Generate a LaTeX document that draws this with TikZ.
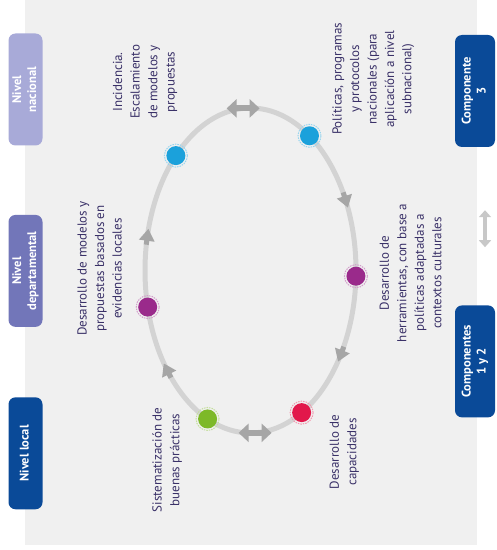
\documentclass[tikz,border=0pt]{standalone}
\usepackage{fontspec}
\setmainfont{PT Sans}
\usepackage{graphicx}
\usetikzlibrary{arrows.meta,positioning}
\definecolor{Soft}{HTML}{F0F0F0}
\definecolor{Track}{HTML}{D3D3D3}
\definecolor{Tip}{HTML}{A6A6A6}
\definecolor{TipLight}{HTML}{C8C8C8}
\definecolor{NivNac}{HTML}{A8AAD8}
\definecolor{NivDep}{HTML}{7276B9}
\definecolor{Navy}{HTML}{0A4A98}
\definecolor{Ink}{HTML}{3A3168}
\definecolor{DotBlue}{HTML}{1BA1DB}
\definecolor{DotPurple}{HTML}{9A2A8B}
\definecolor{DotRed}{HTML}{E2184B}
\definecolor{DotGreen}{HTML}{7DB928}
\newcommand{\up}[1]{\rotatebox{90}{\begin{tabular}{@{}c@{}}#1\end{tabular}}}

\begin{document}
\begin{tikzpicture}[x=1pt,y=1pt,
  lvl/.style={rounded corners=7pt,minimum width=34pt,minimum height=112pt,inner sep=0pt,text=white,font=\bfseries\fontsize{12.5}{15}\selectfont},
  comp/.style={lvl,minimum width=40pt,fill=Navy},
  txt/.style={inner sep=0pt,text=Ink,font=\fontsize{13}{17.5}\selectfont},
  dot/.style={circle,fill=#1,minimum size=19pt,inner sep=0pt},
  midtip/.style={draw=Tip,line width=5pt,-{Triangle[length=12pt,width=15pt]}},
  dbl/.style={draw=Tip,line width=6pt,{Triangle[length=10pt,width=18pt]}-{Triangle[length=10pt,width=18pt]}}]
  \useasboundingbox (0,0) rectangle (497,550);
  \fill[Soft] (25,5) rectangle (477,550);
  % levels and components
  \node[lvl,fill=NivNac] (nac) at (25.5,460.5) {\up{Nivel\\nacional}};
  \node[lvl,fill=NivDep,below=69pt of nac] (dep) {\up{Nivel\\departamental}};
  \node[lvl,fill=Navy,below=70pt of dep] (loc) {\up{Nivel local}};
  \node[comp] (c3) at (475,459) {\up{Componente\\3}};
  \node[comp,below=158pt of c3] (c12) {\up{Componentes\\1 y 2}};
  \draw[draw=TipLight,line width=4pt,{Triangle[length=7pt,width=12pt]}-{Triangle[length=7pt,width=12pt]},shorten <=63pt,shorten >=58pt] ([xshift=10pt]c3.south) -- ([xshift=10pt]c12.north);
  % cycle
  \begin{scope}[shift={(250.5,279.5)}]
    \draw[Track,line width=5pt] (0,0) ellipse[x radius=105.5pt,y radius=162.5pt];
    \foreach \t in {25.7,-31,-142,168}{
      \pgfmathsetmacro\a{atan2(-162.5*cos(\t),105.5*sin(\t))}
      \draw[midtip] (\t:105.5 and 162.5) ++(\a+180:8) -- ++(\a:16);
    }
    \draw[dbl] (94:105.5 and 162.5) ++(-16.5,0) -- ++(33,0);
    \draw[dbl] (-87.5:105.5 and 162.5) ++(-16.5,0) -- ++(33,0);
    \node[dot=DotBlue] (inc) at (135:105.5 and 162.5) {};
    \node[dot=DotBlue] (pol) at (56:105.5 and 162.5) {};
    \node[dot=DotPurple] (her) at (-2:105.5 and 162.5) {};
    \node[dot=DotRed] (cap) at (-61:105.5 and 162.5) {};
    \node[dot=DotGreen] (sis) at (-114:105.5 and 162.5) {};
    \node[dot=DotPurple] (mod) at (193:105.5 and 162.5) {};
  \end{scope}
  \foreach \n/\c in {inc/DotBlue,pol/DotBlue,her/DotPurple,cap/DotRed,sis/DotGreen,mod/DotPurple}
    \draw[\c!45,line width=1pt,dash pattern=on 1.5pt off 1pt] (\n.center) circle[radius=11.5pt];
  % labels
  \node[txt] (tinc) at (145,468) {\up{Incidencia.\\Escalamiento\\de modelos y\\propuestas}};
  \node[txt] (tpol) at (373,471) {\up{Políticas, programas\\y protocolos\\nacionales (para\\aplicación a nivel\\subnacional)}};
  \node[txt] (ther) at (411.5,277) {\up{Desarrollo de\\herramientas, con base a\\políticas adaptadas a\\contextos culturales}};
  \node[txt] (tcap) at (344,98) {\up{Desarrollo de\\capacidades}};
  \node[txt] (tsis) at (167,90) {\up{Sistematización de\\buenas prácticas}};
  \node[txt] (tmod) at (100.5,281.5) {\up{Desarrollo de modelos y\\propuestas basados en\\evidencias locales}};
\end{tikzpicture}
\end{document}
